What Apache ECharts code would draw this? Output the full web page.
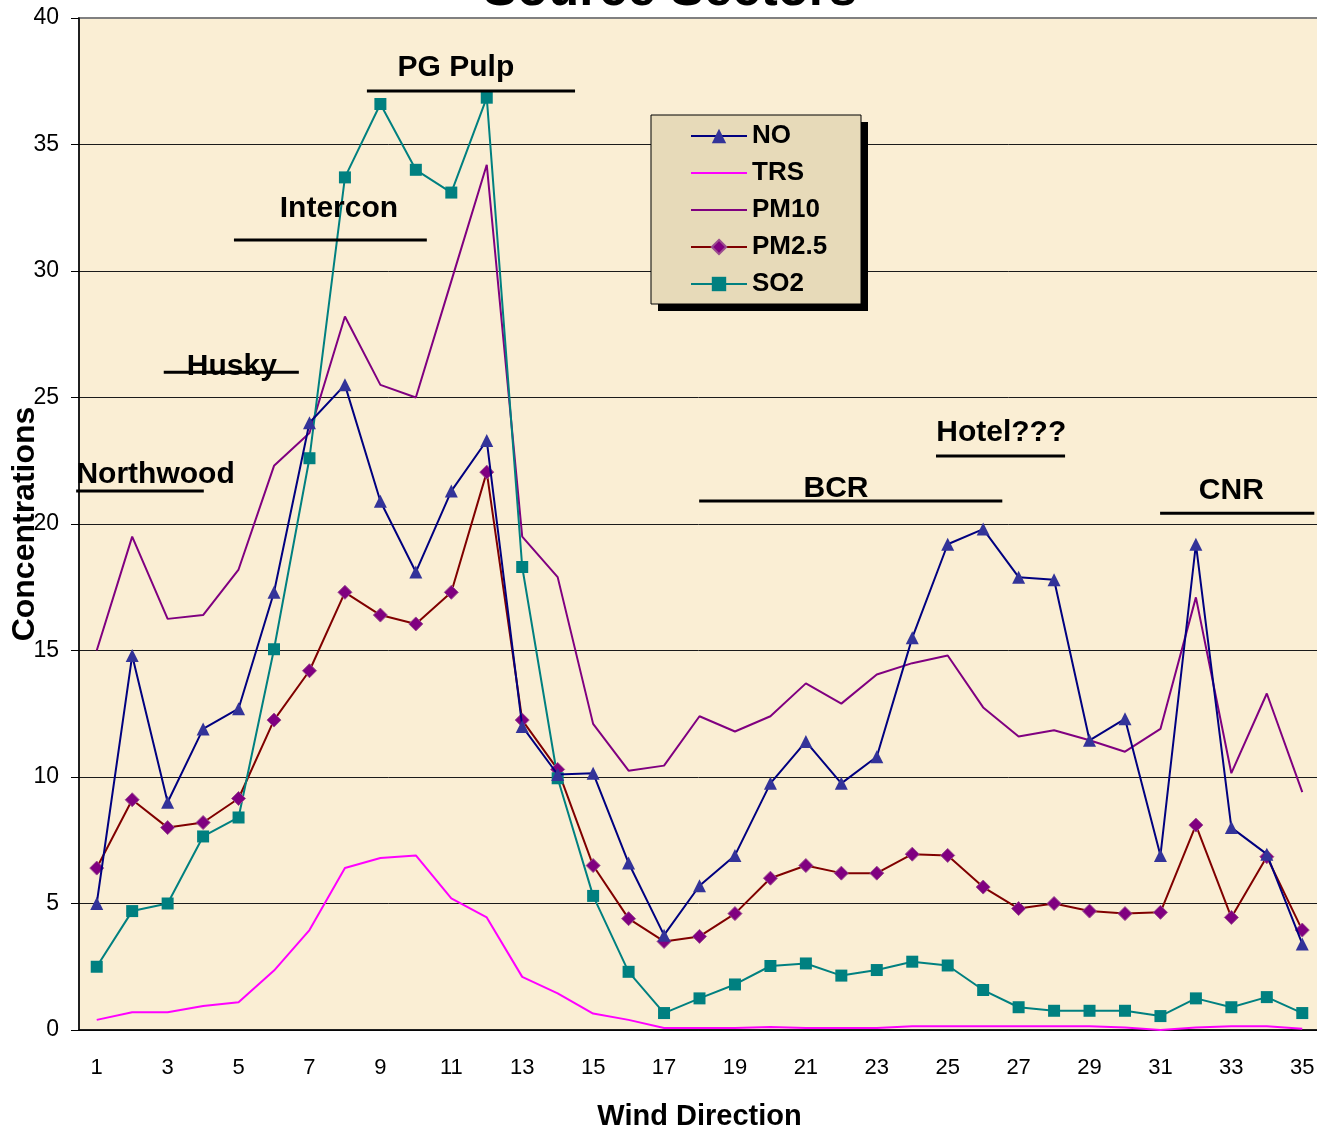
<!DOCTYPE html>
<html>
<head>
<meta charset="utf-8">
<title>Source Sectors</title>
<script src="https://cdn.jsdelivr.net/npm/echarts@6/dist/echarts.min.js"></script>
<style>
  html, body { margin: 0; padding: 0; background: #fff; }
  #chart { width: 1317px; height: 1133px; }
</style>
</head>
<body>
<div id="chart"></div>
<script>
// wind direction sectors
const windDirection = ['1','2','3','4','5','6','7','8','9','10','11','12','13','14','15','16','17','18',
  '19','20','21','22','23','24','25','26','27','28','29','30','31','32','33','34','35'];

const no = [5.0, 14.8, 9.0, 11.9, 12.7, 17.3, 24.0, 25.5, 20.9, 18.1, 21.3, 23.3, 12.0, 10.1, 10.15,
  6.6, 3.75, 5.7, 6.9, 9.75, 11.4, 9.75, 10.8, 15.5, 19.2, 19.8, 17.9, 17.8, 11.45, 12.3, 6.9, 19.2, 8.0, 6.95, 3.4];
const trs = [0.4, 0.7, 0.7, 0.95, 1.1, 2.35, 3.95, 6.4, 6.8, 6.9, 5.2, 4.45, 2.1, 1.45, 0.65,
  0.4, 0.08, 0.08, 0.08, 0.12, 0.08, 0.08, 0.08, 0.15, 0.15, 0.15, 0.15, 0.15, 0.15, 0.1, 0.0, 0.1, 0.15, 0.15, 0.05];
const pm10 = [15.0, 19.5, 16.25, 16.4, 18.2, 22.3, 23.6, 28.2, 25.5, 25.0, 29.6, 34.2, 19.5, 17.9, 12.1,
  10.25, 10.45, 12.4, 11.8, 12.4, 13.7, 12.9, 14.05, 14.5, 14.8, 12.75, 11.6, 11.85, 11.45, 11.0, 11.9, 17.1, 10.15, 13.3, 9.4];
const pm25 = [6.4, 9.1, 8.0, 8.2, 9.15, 12.25, 14.2, 17.3, 16.4, 16.05, 17.3, 22.05, 12.25, 10.3, 6.5,
  4.4, 3.5, 3.7, 4.6, 6.0, 6.5, 6.2, 6.2, 6.95, 6.9, 5.65, 4.8, 5.0, 4.7, 4.6, 4.65, 8.1, 4.45, 6.85, 3.95];
const so2 = [2.5, 4.7, 5.0, 7.65, 8.4, 15.05, 22.6, 33.7, 36.6, 34.0, 33.1, 36.85, 18.3, 9.95, 5.3,
  2.3, 0.67, 1.25, 1.8, 2.53, 2.63, 2.15, 2.37, 2.7, 2.55, 1.58, 0.9, 0.76, 0.76, 0.76, 0.55, 1.25, 0.9, 1.3, 0.67];

// source sector labels: name, text position (sector, value), underline from/to (sector) at value
const sectorNames = ['Northwood', 'Husky', 'Intercon', 'PG Pulp', 'BCR', 'Hotel???', 'CNR'];
const sectorTextAt = [[2.66, 21.95], [4.81, 26.2], [7.83, 32.45], [11.13, 38.05], [21.85, 21.4], [26.51, 23.6], [33.0, 21.3]];
const sectorLineFrom = [0.42, 2.89, 4.87, 8.62, 17.99, 24.67, 30.99];
const sectorLineTo = [4.02, 6.70, 10.31, 14.49, 26.54, 28.31, 35.34];
const sectorLineAt = [21.3, 26.0, 31.23, 37.11, 20.91, 22.69, 20.42];

const font = '"Liberation Sans", Arial, sans-serif';

const chart = echarts.init(document.getElementById('chart'));

const option = {
  backgroundColor: '#ffffff',
  animation: false,
  title: {
    text: 'Source Sectors',
    left: 665,
    top: -40,
    textAlign: 'center',
    textStyle: { fontFamily: font, fontSize: 51, fontWeight: 'bold', color: '#000' }
  },
  grid: {
    left: 79,
    top: 18,
    width: 1241,
    bottom: 103,
    containLabel: false,
    outerBoundsMode: 'none',
    show: true,
    backgroundColor: '#faeed4',
    borderColor: '#808080',
    borderWidth: 2
  },
  legend: {
    orient: 'vertical',
    left: 651,
    top: 115,
    padding: [8, 30, 11, 39],
    itemWidth: 56,
    itemHeight: 18,
    itemGap: 11,
    z: 20,
    textStyle: { fontFamily: font, fontSize: 26, fontWeight: 'bold', color: '#000' },
    data: ['NO', 'TRS', 'PM10', 'PM2.5', 'SO2']
  },
  xAxis: {
    type: 'category',
    data: windDirection,
    name: 'Wind Direction',
    nameLocation: 'middle',
    nameGap: 72,
    nameMoveOverlap: false,
    nameTextStyle: { fontFamily: font, fontSize: 29, fontWeight: 'bold', color: '#000' },
    axisLine: { lineStyle: { color: '#000', width: 1.5 } },
    axisTick: { interval: 0, length: 8, lineStyle: { color: '#000' } },
    axisLabel: { interval: 1, margin: 27, fontFamily: font, fontSize: 22, color: '#000' },
    splitLine: { show: false }
  },
  yAxis: {
    type: 'value',
    min: 0,
    max: 40,
    interval: 5,
    name: 'Concentrations',
    nameLocation: 'middle',
    nameGap: 38,
    nameMoveOverlap: false,
    nameTextStyle: { fontFamily: font, fontSize: 32, fontWeight: 'bold', color: '#000' },
    axisLine: { show: true, lineStyle: { color: '#000', width: 1.5 } },
    axisTick: { show: true, length: 8, lineStyle: { color: '#000' } },
    axisLabel: { margin: 20, fontFamily: font, fontSize: 23, color: '#000' },
    splitLine: { show: true, showMaxLine: false, lineStyle: { color: '#1a1a1a', width: 1 } }
  },
  series: [
    {
      name: 'NO',
      type: 'line',
      data: no,
      symbol: 'triangle',
      symbolSize: 13,
      lineStyle: { color: '#000080', width: 2 },
      itemStyle: { color: '#333399' },
      z: 4
    },
    {
      name: 'TRS',
      type: 'line',
      data: trs,
      symbol: 'none',
      lineStyle: { color: '#ff00ff', width: 2 },
      itemStyle: { color: '#ff00ff', opacity: 0 },
      z: 2
    },
    {
      name: 'PM10',
      type: 'line',
      data: pm10,
      symbol: 'none',
      lineStyle: { color: '#800080', width: 2 },
      itemStyle: { color: '#800080', opacity: 0 },
      z: 2
    },
    {
      name: 'PM2.5',
      type: 'line',
      data: pm25,
      symbol: 'diamond',
      symbolSize: 14,
      lineStyle: { color: '#800000', width: 2 },
      itemStyle: { color: '#800080', borderColor: '#9b4d8f', borderWidth: 1 },
      z: 3
    },
    {
      name: 'SO2',
      type: 'line',
      data: so2,
      symbol: 'rect',
      symbolSize: 12,
      lineStyle: { color: '#008080', width: 2 },
      itemStyle: { color: '#008080' },
      z: 3
    }
  ]
};

chart.setOption(option);

// legend frame and the sector labels, placed after layout
function drawExtras() {
  const x0 = chart.convertToPixel({ xAxisIndex: 0 }, windDirection[0]);
  const x1 = chart.convertToPixel({ xAxisIndex: 0 }, windDirection[1]);
  const step = x1 - x0;
  const px = (s) => x0 + (s - 1) * step;
  const py = (v) => chart.convertToPixel({ yAxisIndex: 0 }, v);
  const elements = [
    // legend shadow + box
    { type: 'rect', z: 15, shape: { x: 658, y: 122, width: 210, height: 189 }, style: { fill: '#000' } },
    { type: 'rect', z: 16, shape: { x: 651, y: 115, width: 210, height: 189 },
      style: { fill: '#e7dab9', stroke: '#000', lineWidth: 1 } }
  ];
  sectorNames.forEach((name, i) => {
    elements.push({
      type: 'text',
      x: px(sectorTextAt[i][0]),
      y: py(sectorTextAt[i][1]),
      z: 10,
      style: {
        text: name,
        font: 'bold 30px ' + font,
        fill: '#000',
        align: 'center',
        verticalAlign: 'middle'
      }
    });
    elements.push({
      type: 'line',
      z: 10,
      shape: { x1: px(sectorLineFrom[i]), y1: py(sectorLineAt[i]), x2: px(sectorLineTo[i]), y2: py(sectorLineAt[i]) },
      style: { stroke: '#000', lineWidth: 3 }
    });
  });
  chart.setOption({ graphic: elements });
}

drawExtras();

window.addEventListener('resize', () => {
  chart.resize();
  drawExtras();
});
</script>
</body>
</html>
